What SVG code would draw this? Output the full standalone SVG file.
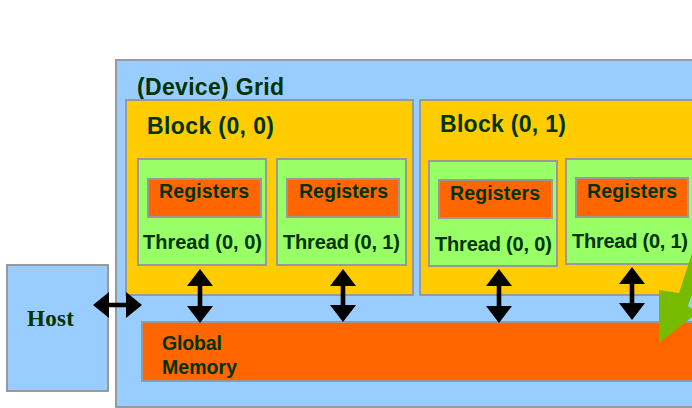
<svg xmlns="http://www.w3.org/2000/svg" width="692" height="408" viewBox="0 0 692 408">
<style>
.box{stroke:#999999;stroke-width:2}
.grid{fill:#99CCFF}
.block{fill:#FFCC00}
.thread{fill:#99FF66}
.reg{fill:#FF6600}
.t{font-family:"Liberation Sans",Arial,sans-serif;font-weight:bold;fill:#003300}
.host{font-family:"Liberation Serif","Times New Roman",serif;font-weight:bold;fill:#003300}
.arrow{fill:#000000}
</style>
<rect width="692" height="408" fill="#FFFFFF"/>
<g id="grid">
<rect class="box grid" x="116" y="60" width="590" height="347"/>
<text class="t" x="137" y="95" font-size="23" textLength="147">(Device) Grid</text>
</g>
<g id="block00">
<rect class="box block" x="126" y="100" width="287" height="195"/>
<text class="t" x="147" y="134" font-size="23" textLength="127">Block (0, 0)</text>
</g>
<g id="block01">
<rect class="box block" x="420" y="100" width="290" height="195"/>
<text class="t" x="440" y="132" font-size="23" textLength="126">Block (0, 1)</text>
</g>
<g id="thread00_b0">
<rect class="box thread" x="138" y="159" width="128" height="106"/>
<rect class="box reg" x="148" y="179" width="113" height="38"/>
<text class="t" x="159" y="198" font-size="19.5" textLength="90">Registers</text>
<text class="t" x="143" y="249" font-size="20" textLength="119">Thread (0, 0)</text>
</g>
<g id="thread01_b0">
<rect class="box thread" x="277" y="159" width="129" height="106"/>
<rect class="box reg" x="287" y="179" width="112" height="38"/>
<text class="t" x="299" y="198" font-size="19.5" textLength="89">Registers</text>
<text class="t" x="283" y="249" font-size="20" textLength="117">Thread (0, 1)</text>
</g>
<g id="thread00_b1">
<rect class="box thread" x="429" y="161" width="128" height="105"/>
<rect class="box reg" x="439" y="180" width="113" height="38"/>
<text class="t" x="450" y="200" font-size="19.5" textLength="90">Registers</text>
<text class="t" x="435" y="251" font-size="20" textLength="117">Thread (0, 0)</text>
</g>
<g id="thread01_b1">
<rect class="box thread" x="566" y="159" width="140" height="105"/>
<rect class="box reg" x="576" y="178" width="112" height="39"/>
<text class="t" x="587" y="198" font-size="19.5" textLength="90">Registers</text>
<text class="t" x="572" y="248" font-size="20" textLength="116">Thread (0, 1)</text>
</g>
<g id="global_memory">
<rect class="box reg" x="142" y="322" width="560" height="59"/>
<text class="t" x="162" y="350" font-size="19.5" textLength="60">Global</text>
<text class="t" x="162" y="374" font-size="19.5" textLength="75">Memory</text>
</g>
<g id="host">
<rect class="box grid" x="7" y="265" width="101" height="126"/>
<text class="host" x="27" y="326" font-size="23" textLength="47">Host</text>
</g>
<g id="connectors">
<polygon class="arrow" points="93,305 109,292 109,302.7 126,302.7 126,292 142,305 126,318 126,307.3 109,307.3 109,318"/>
<polygon class="arrow" points="200,269 213,286 202.3,286 202.3,306 213,306 200,323 187,306 197.7,306 197.7,286 187,286"/>
<polygon class="arrow" points="343,269 356,286 345.3,286 345.3,305 356,305 343,322 330,305 340.7,305 340.7,286 330,286"/>
<polygon class="arrow" points="499,269 512,286 501.3,286 501.3,306 512,306 499,323 486,306 496.7,306 496.7,286 486,286"/>
<polygon class="arrow" points="632,267 645,284 634.3,284 634.3,303 645,303 632,320 619,303 629.7,303 629.7,284 619,284"/>
<polygon fill="#77BB00" points="695,244 679,293 659,290 659,343 697,313 688,306 709,244"/>
</g>
</svg>
